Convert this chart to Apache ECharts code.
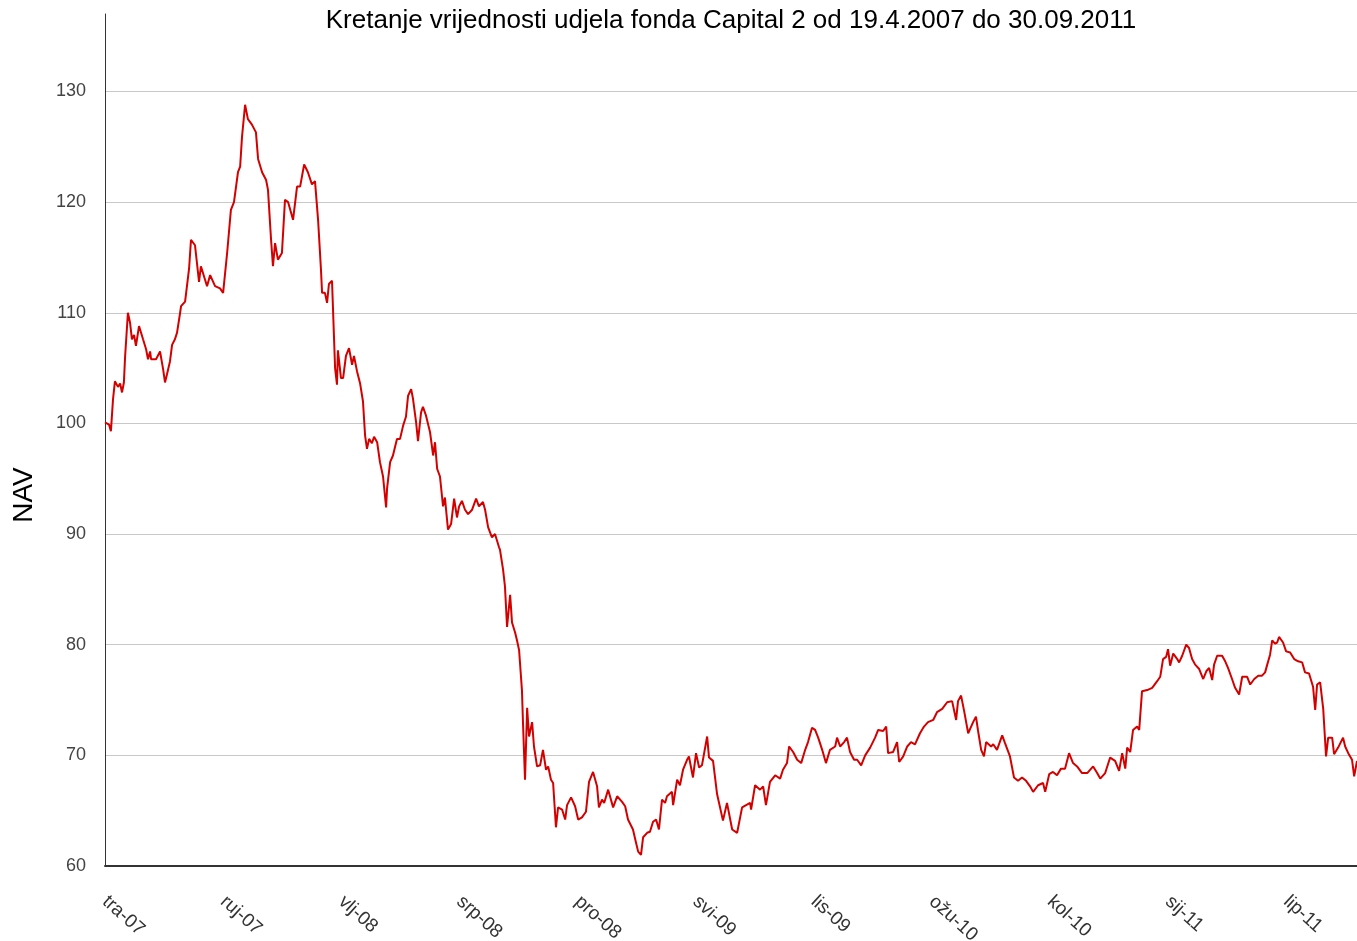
<!DOCTYPE html>
<html>
<head>
<meta charset="utf-8">
<title>Capital 2 NAV</title>
<script src="https://cdn.jsdelivr.net/npm/echarts@6/dist/echarts.min.js"></script>
<style>
  html, body { margin: 0; padding: 0; background: #fff; }
  #chart { width: 1357px; height: 941px; }
</style>
</head>
<body>
<div id="chart"></div>
<script>
// x = months since 19.4.2007, y = NAV
var months = [
  0, 0.17, 0.25, 0.34, 0.42, 0.55, 0.64, 0.72, 0.80, 0.85, 0.97, 1.06, 1.14, 1.23, 1.31, 1.44, 1.52, 1.61, 1.74, 1.82,
  1.91, 1.95, 2.16, 2.33, 2.46, 2.54, 2.62, 2.75, 2.84, 2.96, 3.05, 3.18, 3.22, 3.39, 3.56, 3.64, 3.81, 3.98, 4.06, 4.32,
  4.45, 4.66, 4.87, 5.00, 5.17, 5.33, 5.46, 5.63, 5.72, 5.80, 5.93, 6.05, 6.22, 6.39, 6.48, 6.65, 6.82, 6.90, 7.03, 7.11,
  7.20, 7.32, 7.49, 7.62, 7.75, 7.96, 8.13, 8.26, 8.43, 8.59, 8.76, 8.89, 9.02, 9.14, 9.19, 9.31, 9.40, 9.48, 9.61, 9.74,
  9.82, 9.86, 9.99, 10.08, 10.20, 10.33, 10.46, 10.54, 10.67, 10.80, 10.92, 11.01, 11.09, 11.18, 11.30, 11.39, 11.52, 11.64, 11.77, 11.90,
  11.94, 12.07, 12.19, 12.36, 12.49, 12.62, 12.74, 12.83, 12.96, 13.04, 13.17, 13.25, 13.38, 13.46, 13.59, 13.76, 13.89, 13.97, 14.06, 14.18,
  14.31, 14.39, 14.52, 14.65, 14.78, 14.90, 14.99, 15.11, 15.24, 15.37, 15.54, 15.71, 15.83, 16.00, 16.09, 16.22, 16.38, 16.51, 16.68, 16.72,
  16.85, 16.93, 17.02, 17.15, 17.23, 17.36, 17.44, 17.53, 17.65, 17.70, 17.78, 17.87, 17.95, 18.08, 18.16, 18.29, 18.42, 18.54, 18.67, 18.76,
  18.88, 18.97, 19.09, 19.18, 19.35, 19.48, 19.56, 19.73, 19.90, 20.03, 20.19, 20.36, 20.49, 20.66, 20.83, 20.91, 21.04, 21.13, 21.30, 21.51,
  21.68, 21.89, 22.02, 22.14, 22.35, 22.48, 22.57, 22.69, 22.78, 22.95, 23.07, 23.20, 23.33, 23.45, 23.58, 23.71, 23.79, 24.00, 24.05, 24.22,
  24.34, 24.47, 24.64, 24.72, 24.89, 25.02, 25.15, 25.27, 25.49, 25.57, 25.74, 25.91, 26.16, 26.33, 26.55, 26.76, 26.97, 27.31, 27.35, 27.52,
  27.73, 27.86, 27.98, 28.15, 28.37, 28.58, 28.70, 28.87, 28.96, 29.13, 29.30, 29.47, 29.64, 29.76, 29.93, 30.06, 30.19, 30.36, 30.52, 30.69,
  30.91, 30.99, 31.12, 31.29, 31.41, 31.54, 31.71, 31.84, 32.01, 32.18, 32.39, 32.60, 32.73, 32.94, 33.07, 33.15, 33.36, 33.53, 33.62, 33.79,
  33.96, 34.12, 34.29, 34.50, 34.67, 34.84, 35.06, 35.22, 35.44, 35.65, 35.86, 36.03, 36.11, 36.24, 36.37, 36.54, 36.75, 36.87, 36.96, 37.09,
  37.21, 37.30, 37.51, 37.60, 37.76, 37.98, 38.10, 38.31, 38.48, 38.65, 38.82, 38.99, 39.16, 39.29, 39.50, 39.71, 39.80, 39.97, 40.13, 40.30,
  40.47, 40.64, 40.81, 40.98, 41.15, 41.36, 41.58, 41.83, 42.00, 42.13, 42.34, 42.55, 42.76, 42.93, 43.06, 43.19, 43.27, 43.40, 43.52, 43.69,
  43.78, 43.90, 44.12, 44.33, 44.54, 44.67, 44.79, 44.92, 45.00, 45.09, 45.22, 45.39, 45.47, 45.60, 45.77, 45.89, 46.02, 46.15, 46.32, 46.49,
  46.62, 46.74, 46.87, 46.95, 47.08, 47.29, 47.42, 47.54, 47.71, 47.84, 48.01, 48.14, 48.35, 48.48, 48.65, 48.82, 48.98, 49.11, 49.20, 49.32,
  49.41, 49.53, 49.62, 49.70, 49.87, 50.00, 50.17, 50.34, 50.51, 50.68, 50.80, 50.97, 51.14, 51.23, 51.31, 51.44, 51.57, 51.69, 51.78, 51.95,
  52.03, 52.20, 52.41, 52.50, 52.63, 52.79, 52.88, 53.00
];
var nav = [
  100.1, 99.9, 99.3, 102.2, 103.8, 103.3, 103.6, 102.8, 103.7, 106, 110, 109.1, 107.6, 108, 107, 108.8, 108.7, 107.6, 106.7, 105.8,
  106.5, 105.8, 105.8, 106.5, 104.9, 103.7, 104.4, 105.6, 107.1, 107.6, 108.2, 110, 110.6, 111, 114, 116.6, 116.1, 112.8, 114.2, 112.4,
  113.4, 112.4, 112.2, 111.8, 115.4, 119.3, 120, 122.7, 123.2, 125.9, 128.8, 127.5, 127, 126.3, 123.9, 122.7, 122, 121.1, 116.6, 114.2,
  116.3, 114.8, 115.4, 120.2, 120, 118.4, 121.4, 121.4, 123.4, 122.7, 121.6, 121.9, 118.4, 114, 111.8, 111.8, 110.9, 112.6, 112.9, 105,
  103.5, 106.6, 104.1, 104.1, 106.1, 106.8, 105.3, 106.1, 104.7, 103.6, 102, 98.9, 97.7, 98.6, 98.2, 98.8, 98.3, 96.5, 95.2, 92.4,
  94.1, 96.5, 97.1, 98.6, 98.6, 99.8, 100.6, 102.5, 103.1, 102.2, 100.1, 98.4, 101, 101.5, 100.7, 99.2, 97.1, 98.3, 95.9, 95.2,
  92.5, 93.3, 90.4, 90.9, 93.2, 91.5, 92.5, 93, 92.2, 91.8, 92.2, 93.2, 92.5, 92.9, 92.2, 90.6, 89.7, 90, 88.8, 88.6,
  86.8, 85.3, 81.6, 84.5, 82, 81.1, 80.4, 79.5, 75.9, 72.6, 67.8, 74.3, 71.7, 73, 70.8, 69, 69.1, 70.5, 68.7, 69,
  67.8, 67.5, 63.5, 65.3, 65.1, 64.2, 65.5, 66.2, 65.4, 64.2, 64.4, 64.9, 67.6, 68.5, 67.2, 65.3, 66, 65.7, 66.9, 65.3,
  66.3, 65.8, 65.4, 64.2, 63.3, 62.1, 61.3, 61, 62.6, 63, 63.1, 64, 64.2, 63.3, 66, 65.7, 66.3, 66.7, 65.5, 67.8,
  67.3, 68.7, 69.6, 69.9, 68, 70.2, 68.9, 69.1, 71.7, 69.8, 69.5, 66.5, 64.1, 65.7, 63.3, 63, 65.3, 65.7, 65.1, 67.3,
  66.9, 67.2, 65.5, 67.6, 68.2, 67.9, 68.7, 69.3, 70.8, 70.3, 69.6, 69.3, 70.5, 71.2, 72.5, 72.3, 71.6, 70.5, 69.3, 70.5,
  70.8, 71.6, 70.8, 71.2, 71.6, 70.3, 69.6, 69.6, 69.1, 70, 70.7, 71.6, 72.3, 72.2, 72.6, 70.2, 70.3, 71.2, 69.4, 69.9,
  70.8, 71.2, 71, 72, 72.6, 73, 73.2, 73.9, 74.2, 74.8, 74.9, 73.2, 74.9, 75.4, 74, 72, 73, 73.5, 72.2, 70.5,
  69.9, 71.2, 70.8, 71, 70.5, 71.8, 71.1, 69.9, 68, 67.7, 68, 67.7, 67.2, 66.7, 67.3, 67.5, 66.7, 68.3, 68.5, 68.2,
  68.8, 68.8, 70.2, 69.3, 69, 68.4, 68.4, 69, 68.4, 67.9, 68.4, 69.8, 69.5, 68.6, 70.2, 68.8, 70.7, 70.3, 72.3, 72.6,
  72.3, 75.8, 75.9, 76.1, 76.7, 77.1, 78.7, 78.9, 79.6, 78.1, 79.2, 78.7, 78.4, 79, 80, 79.7, 78.7, 78.2, 77.8, 76.9,
  77.6, 77.9, 76.8, 78.2, 79, 79, 78.5, 77.9, 76.9, 76.1, 75.5, 77.1, 77.1, 76.4, 76.9, 77.2, 77.2, 77.5, 78.2, 79.1,
  80.4, 80.1, 80.2, 80.7, 80.2, 79.4, 79.3, 78.7, 78.5, 78.4, 77.5, 77.4, 76.2, 74.1, 76.4, 76.6, 74.2, 69.9, 71.6, 71.6,
  70.1, 70.7, 71.6, 70.8, 70.2, 69.6, 68.1, 69.5
];
// one label every 5 months, starting at tra-07
var xLabels = ['tra-07', 'ruj-07', 'vlj-08', 'srp-08', 'pro-08', 'svi-09', 'lis-09', 'ožu-10', 'kol-10', 'sij-11', 'lip-11'];

var seriesData = months.map(function(m, i) { return [m, nav[i]]; });

var chart = echarts.init(document.getElementById('chart'));

var option = {
    backgroundColor: '#fff',
    animation: false,
    textStyle: { fontFamily: 'Liberation Sans, Arial, sans-serif' },
    graphic: [{
        type: 'text',
        x: 731,
        y: 21,
        style: {
            text: 'Kretanje vrijednosti udjela fonda Capital 2 od 19.4.2007 do 30.09.2011',
            font: '26px "Liberation Sans", Arial, sans-serif',
            fill: '#000',
            align: 'center',
            verticalAlign: 'middle'
        }
    }, {
        // axis title sits lower than the axis middle in the original
        type: 'text',
        x: 24,
        y: 495,
        rotation: Math.PI / 2,
        style: {
            text: 'NAV',
            font: '28px "Liberation Sans", Arial, sans-serif',
            fill: '#000',
            align: 'center',
            verticalAlign: 'middle'
        }
    }],
    grid: { left: 105, right: 0, top: 14, bottom: 75, outerBoundsMode: 'none' },
    xAxis: {
        type: 'value',
        min: 0,
        max: 53,
        interval: 5,
        axisLine: { show: true, lineStyle: { color: '#333', width: 2 } },
        axisTick: { show: false },
        splitLine: { show: false },
        axisLabel: {
            rotate: -42,
            margin: 33,
            fontSize: 19,
            color: '#333',
            showMaxLabel: false,
            formatter: function(v) {
                var k = Math.round(v / 5);
                return (v % 5 === 0 && xLabels[k]) ? xLabels[k] : '';
            }
        }
    },
    yAxis: {
        type: 'value',
        min: 60,
        max: 137,
        interval: 10,
        axisLine: { show: true, lineStyle: { color: '#333', width: 1 } },
        axisTick: { show: false },
        axisLabel: {
            margin: 19,
            fontSize: 18,
            color: '#444',
            formatter: function(v) { return v % 10 === 0 ? String(v) : ''; }
        },
        splitLine: {
            show: true,
            lineStyle: {
                // first entry is reused for the line at the top of the axis, keep it hidden
                color: ['rgba(0,0,0,0)', '#c8c8c8', '#c8c8c8', '#c8c8c8', '#c8c8c8', '#c8c8c8', '#c8c8c8', '#c8c8c8'],
                width: 1
            }
        }
    },
    series: [{
        name: 'NAV',
        type: 'line',
        data: seriesData,
        showSymbol: false,
        lineStyle: { color: '#d40000', width: 2 },
        z: 3
    }]
};
chart.setOption(option);
</script>
</body>
</html>
